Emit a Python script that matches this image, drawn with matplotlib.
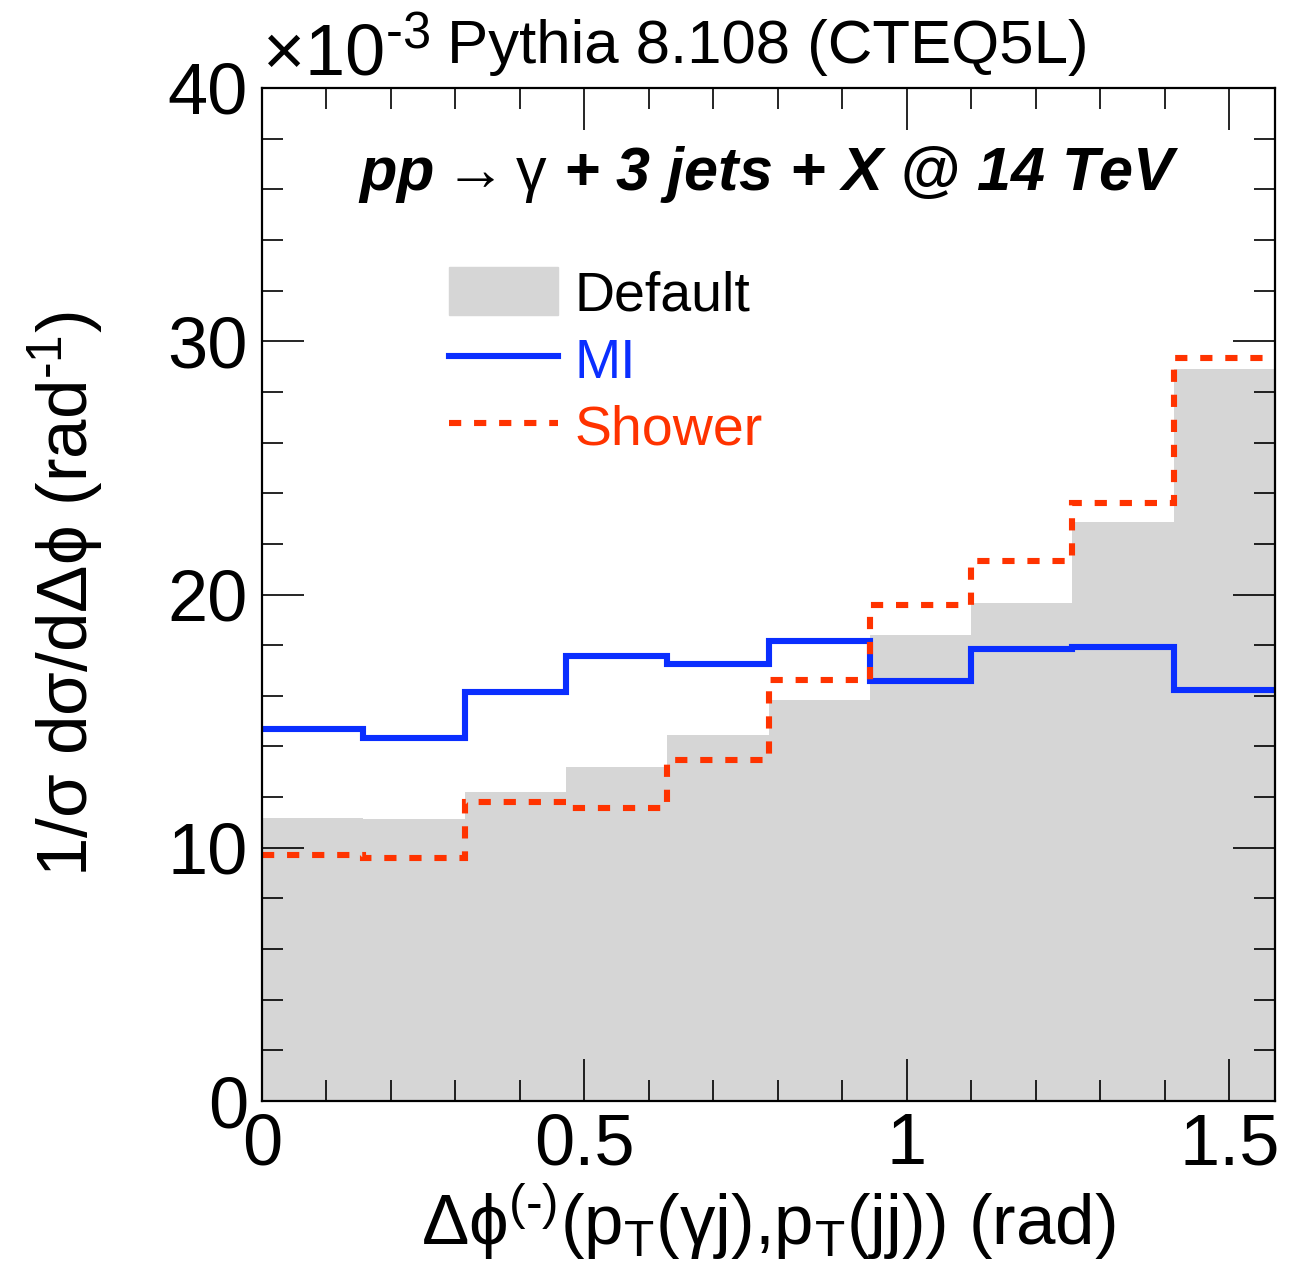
import numpy as np
import matplotlib
matplotlib.use("Agg")
import matplotlib.pyplot as plt
from matplotlib.patches import Patch
from matplotlib.lines import Line2D
from matplotlib.ticker import MultipleLocator

plt.rcParams['font.family'] = ['Liberation Sans', 'DejaVu Sans']
plt.rcParams['mathtext.fontset'] = 'custom'
plt.rcParams['mathtext.rm'] = 'Liberation Sans'
plt.rcParams['mathtext.it'] = 'Liberation Sans:italic'
plt.rcParams['mathtext.bf'] = 'Liberation Sans:bold'
plt.rcParams['mathtext.default'] = 'regular'

# bin edges in rad (10 bins from 0 to pi/2)
edges = [0.0, 0.1571, 0.3142, 0.4712, 0.6283, 0.7854, 0.9425, 1.0996, 1.2566, 1.4137, 1.5708]
# values in units of 1e-3 rad^-1
default_vals = [11.18, 11.14, 12.21, 13.20, 14.47, 15.85, 18.42, 19.67, 22.87, 28.92]
mi_vals = [14.67, 14.34, 16.16, 17.57, 17.24, 18.16, 16.58, 17.86, 17.92, 16.21]
shower_vals = [9.71, 9.59, 11.79, 11.56, 13.45, 16.63, 19.59, 21.31, 23.63, 29.32]
labels = ['Default', 'MI', 'Shower']

gray = '#d6d6d6'
blue = '#0a2eff'
red = '#ff3300'

fig = plt.figure(figsize=(13.05, 12.85), dpi=100)
ax = fig.add_axes([262/1305, 1 - 1101/1285, 1013/1305, 1013/1285])

ax.stairs(default_vals, edges, fill=True, color=gray, baseline=0, zorder=1)
ax.stairs(mi_vals, edges, baseline=None, color=blue, linewidth=4.4, zorder=3)
ax.stairs(shower_vals, edges, baseline=None, color=red, linewidth=4.4,
          linestyle=(0, (2.0, 2.1)), zorder=4)

ax.set_xlim(edges[0], edges[-1])
ax.set_ylim(0, 40)

ax.xaxis.set_minor_locator(MultipleLocator(0.1))
ax.yaxis.set_minor_locator(MultipleLocator(2))
ax.set_xticks([0, 0.5, 1, 1.5])
ax.set_xticklabels(['0', '0.5', '1', '1.5'])
ax.set_yticks([0, 10, 20, 30, 40])
ax.set_yticklabels(['0', '10', '20', '30', '40'])

ax.tick_params(which='both', direction='in', top=True, right=True, color='black', width=1.2)
ax.tick_params(which='major', length=30, labelsize=52)
ax.tick_params(which='minor', length=15)
ax.tick_params(axis='x', pad=8)
ax.tick_params(axis='y', pad=10)
for s in ax.spines.values():
    s.set_linewidth(1.6)
    s.set_zorder(5)
ax.set_axisbelow(False)

ax.set_xlabel(r'$\Delta\phi^{\text{(-)}}$(p$_{T}$($\gamma$j),p$_{T}$(jj)) (rad)', fontsize=51, labelpad=2)
ax.set_ylabel(r'1/$\sigma$ d$\sigma$/d$\Delta\phi$ (rad$^{\text{-1}}$)', fontsize=51, labelpad=44)

ax.text(0.5, 0.899, r'pp$\mathrm{\rightarrow\gamma}$ + 3 jets + X @ 14 TeV', transform=ax.transAxes,
        ha='center', va='baseline', fontsize=44, fontweight='bold', fontstyle='italic')

fig.text(262/1305, 1 - 75/1285, r'×10$^{\text{-3}}$', ha='left', va='baseline', fontsize=52)
fig.text(447/1305, 1 - 63/1285, 'Pythia 8.108 (CTEQ5L)', ha='left', va='baseline', fontsize=44.5)

handles = [Patch(facecolor=gray, edgecolor=gray),
           Line2D([], [], color=blue, linewidth=4.4),
           Line2D([], [], color=red, linewidth=4.4, linestyle=(0, (2.0, 2.1)))]
leg = ax.legend(handles, labels, loc='upper left', bbox_to_anchor=(0.185, 0.823),
                frameon=False, fontsize=40, handlelength=1.96, handleheight=0.95,
                handletextpad=0.3, labelspacing=0.22, borderaxespad=0, borderpad=0)
for t, c in zip(leg.get_texts(), ['black', blue, red]):
    t.set_color(c)

fig.savefig('out.png', dpi=100)
